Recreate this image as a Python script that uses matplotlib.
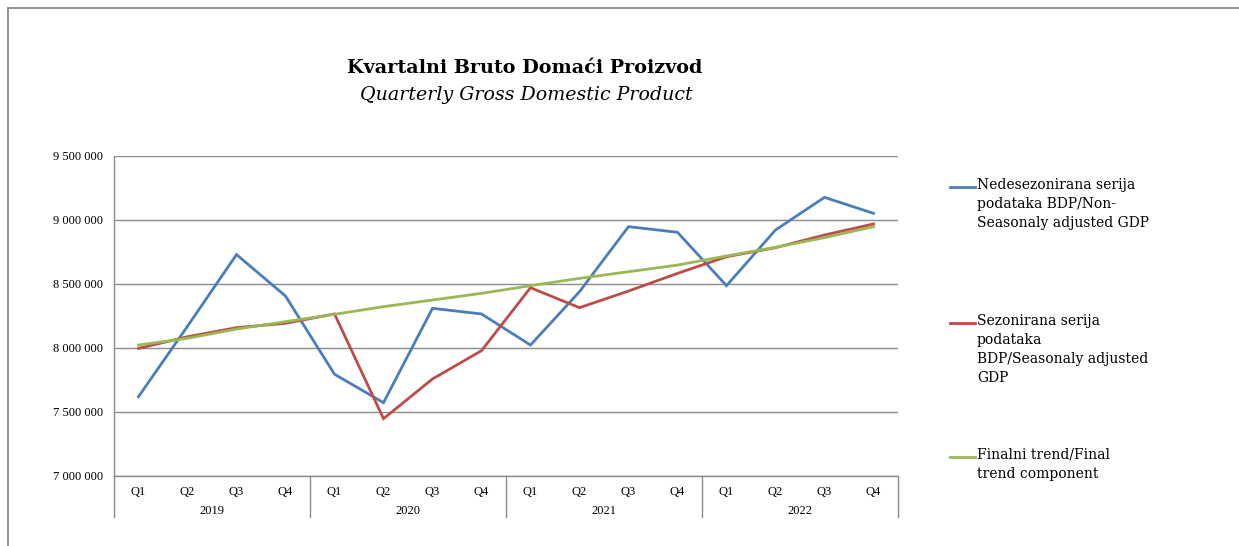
import numpy as np
import matplotlib.pyplot as plt
from matplotlib.lines import Line2D
from matplotlib.ticker import FuncFormatter

# --- DATA ---
years = ["2019", "2020", "2021", "2022"]
quarters = ["Q1", "Q2", "Q3", "Q4"]

non_seasonal = [7620000, 8170000, 8730000, 8406000,
                7795000, 7573000, 8310000, 8266000,
                8023000, 8440000, 8948000, 8904000,
                8487000, 8922000, 9177000, 9052000]
seasonal = [7997000, 8088000, 8159000, 8193000,
            8266000, 7448000, 7758000, 7979000,
            8471000, 8315000, 8445000, 8583000,
            8713000, 8784000, 8883000, 8969000]
trend = [8023000, 8076000, 8148000, 8206000,
         8263000, 8323000, 8375000, 8427000,
         8487000, 8544000, 8596000, 8648000,
         8719000, 8787000, 8862000, 8948000]

labels = ["Nedesezonirana serija\npodataka BDP/Non-\nSeasonaly adjusted GDP",
          "Sezonirana serija\npodataka\nBDP/Seasonaly adjusted\nGDP",
          "Finalni trend/Final\ntrend component"]
colors = ["#4A7EBB", "#BE4B48", "#98B954"]

# --- PLOT ---
W, H = 1239, 546
fig = plt.figure(figsize=(W / 100, H / 100), dpi=100)
ax = fig.add_axes([114 / W, (H - 476) / H, 784 / W, 320 / H])

x = np.arange(len(non_seasonal))
for series, c in zip([non_seasonal, seasonal, trend], colors):
    ax.plot(x, series, color=c, linewidth=2.0, solid_joinstyle="miter")

ax.set_xlim(-0.5, len(x) - 0.5)
ax.set_ylim(7000000, 9500000)
ax.set_yticks(np.arange(7000000, 9500001, 500000))
ax.yaxis.set_major_formatter(FuncFormatter(lambda v, p: f"{int(v):,}".replace(",", " ")))
ax.grid(axis="y", color="#8c8c8c", linewidth=1.0)
ax.set_axisbelow(True)

for s in ["top", "right"]:
    ax.spines[s].set_visible(False)
for s in ["left", "bottom"]:
    ax.spines[s].set_color("#8c8c8c")
    ax.spines[s].set_linewidth(1.0)

serif = "Liberation Serif"
ax.set_xticks(x)
ax.set_xticklabels(quarters * len(years), fontfamily=serif, fontsize=9)
ax.tick_params(axis="x", length=0, pad=7)
ax.tick_params(axis="y", length=0, pad=8)
for t in ax.get_yticklabels():
    t.set_fontfamily(serif)
    t.set_fontsize(9)

# year group labels and dividers
trans = ax.get_xaxis_transform()
for i, yr in enumerate(years):
    ax.text(i * 4 + 1.5, -0.11, yr, transform=trans, ha="center", va="center",
            fontfamily=serif, fontsize=9)
for b in np.arange(len(years) + 1) * 4 - 0.5:
    ax.plot([b, b], [0, -0.128], transform=trans, color="#8c8c8c",
            linewidth=1.0, clip_on=False)

# titles
fig.text(525 / W, 1 - 68 / H, "Kvartalni Bruto Domaći Proizvod", ha="center",
         va="center", fontfamily="DejaVu Serif", fontweight="bold", fontsize=13.8)
fig.text(526 / W, 1 - 95 / H, "Quarterly Gross Domestic Product", ha="center",
         va="center", fontfamily="DejaVu Serif", fontstyle="italic", fontsize=13.7)

# legend
for lab, c, yline in zip(labels, colors, [187, 323, 457]):
    fig.add_artist(Line2D([950 / W, 975 / W], [1 - yline / H, 1 - yline / H],
                          color=c, linewidth=2.0))
    fig.text(977 / W, 1 - (yline - 9) / H, lab, ha="left", va="top",
             fontfamily="DejaVu Serif", fontsize=10, linespacing=1.45)

# outer frame
fig.add_artist(Line2D([7.5 / W, 7.5 / W], [0, 1 - 8 / H], color="#808080", linewidth=1.2))
fig.add_artist(Line2D([7.5 / W, 1], [1 - 8 / H, 1 - 8 / H], color="#808080", linewidth=1.2))

fig.savefig("out.png", dpi=100)
